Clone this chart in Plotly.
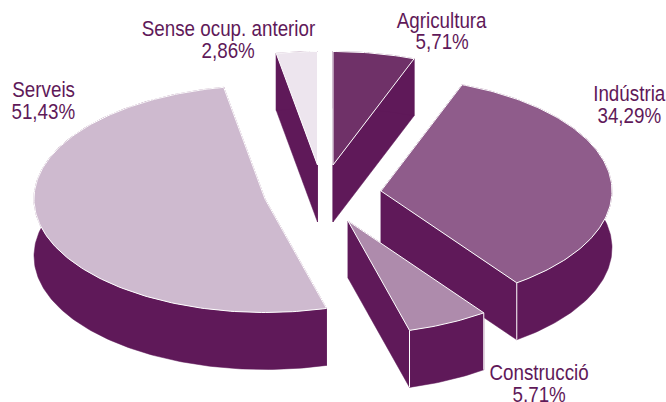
import math
import plotly.graph_objects as go

categories = ["Agricultura", "Indústria", "Construcció", "Serveis", "Sense ocup. anterior"]
values = [5.71, 34.29, 5.71, 51.43, 2.86]
value_labels = ["5,71%", "34,29%", "5,71%", "51,43%", "2,86%"]
colors = ["#6F3168", "#8F5C8B", "#AE8BAC", "#CEBACF", "#EDE5EE"]

WALL = "#5F1959"
INK = "#5F1959"
RX, RY, DEPTH = 231, 113.5, 57
# pixel position of each exploded slice's apex (layout, not data)
apex = [(333, 165), (381, 191), (348, 221), (265, 199), (317.5, 165)]
# centre x, y of first line, y of second line for each label
label_pos = [(442, 20, 41.5), (629, 93, 115.5), (539, 372, 394), (43, 89.5, 111.5), (228, 28.5, 50)]

fig = go.Figure()


def poly(xs, ys, fill, line=None):
    fig.add_trace(go.Scatter(
        x=xs, y=ys, mode="lines", fill="toself", fillcolor=fill,
        line=dict(color=line or fill, width=1 if line else 0.5),
        hoverinfo="skip", showlegend=False))


total = sum(values)
start = 0.0
slices = []
for v in values:
    end = start + v / total * 2 * math.pi
    slices.append((start, end))
    start = end

# back-to-front
order = [4, 0, 1, 3, 2]
for i in order:
    a0, a1 = slices[i]
    cx, cy = apex[i]
    n = max(4, int((a1 - a0) * 60))
    angs = [a0 + (a1 - a0) * k / n for k in range(n + 1)]
    ax = [cx + RX * math.sin(a) for a in angs]
    ay = [cy - RY * math.cos(a) for a in angs]
    # radial walls
    poly([cx, ax[0], ax[0], cx, cx], [cy, ay[0], ay[0] + DEPTH, cy + DEPTH, cy], WALL)
    poly([cx, ax[-1], ax[-1], cx, cx], [cy, ay[-1], ay[-1] + DEPTH, cy + DEPTH, cy], WALL)
    # outer wall
    poly(ax + ax[::-1] + [ax[0]], ay + [y + DEPTH for y in ay[::-1]] + [ay[0]], WALL)
    # corner separators on visible outer wall
    for a, x, y in ((a0, ax[0], ay[0]), (a1, ax[-1], ay[-1])):
        if i in (1, 2) and math.cos(a) < 0 and math.sin(a) > 0:
            fig.add_trace(go.Scatter(x=[x, x], y=[y, y + DEPTH], mode="lines",
                                     line=dict(color="#FFFFFF", width=1),
                                     hoverinfo="skip", showlegend=False))
    # top face
    poly([cx] + ax + [cx], [cy] + ay + [cy], colors[i], "#FFFFFF")

for cat, lab, (x, y1, y2) in zip(categories, value_labels, label_pos):
    for txt, y in ((cat, y1), (lab, y2)):
        fig.add_annotation(
            x=x, y=y, xref="x", yref="y", showarrow=False, text=txt,
            font=dict(family="Liberation Sans", size=22, color=INK),
        )

fig.update_layout(
    width=666, height=402, margin=dict(l=0, r=0, t=0, b=0),
    paper_bgcolor="white", plot_bgcolor="white",
    xaxis=dict(range=[0, 666], visible=False, fixedrange=True),
    yaxis=dict(range=[402, 0], visible=False, fixedrange=True),
)
post = """
document.body.style.margin='0';
document.body.style.overflow='hidden';
document.querySelectorAll('.annotation-text').forEach(function(t){
  var b=t.getBBox(); var c=b.x+b.width/2;
  t.setAttribute('transform','translate('+c+',0) scale(0.855,1) translate('+(-c)+',0)');
});
"""
fig.write_html("out.html", post_script=post, config={"displayModeBar": False})
